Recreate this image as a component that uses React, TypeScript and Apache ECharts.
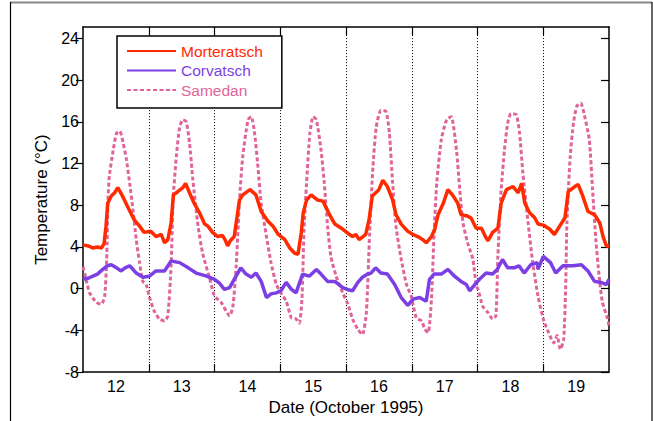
import React, { useEffect, useRef } from "react";
import * as echarts from "echarts";

const seriesNames = ["Morteratsch", "Corvatsch", "Samedan"];
const seriesColors = ["#ff2a00", "#7b3fe4", "#e0649a"];

// [day of October 1995, temperature °C]
const morteratsch: [number, number][] = [
  [11.5, 4.2], [11.58, 4.1], [11.65, 3.9], [11.72, 4.0], [11.78, 3.9], [11.82, 4.3], [11.85, 6.0],
  [11.876, 8.2], [11.93, 8.9], [11.98, 9.2], [12.03, 9.7], [12.1, 8.9], [12.2, 7.6], [12.28, 6.6],
  [12.36, 6.0], [12.43, 5.4], [12.53, 5.5], [12.61, 5.0], [12.69, 5.2], [12.74, 4.4], [12.79, 4.7],
  [12.84, 6.3], [12.875, 9.0], [12.94, 9.3], [13.02, 9.7], [13.06, 10.1], [13.12, 9.2], [13.19, 8.2],
  [13.27, 7.3], [13.35, 6.2], [13.4, 6.0], [13.47, 5.4], [13.55, 5.0], [13.62, 5.1], [13.66, 4.7],
  [13.7, 4.1], [13.74, 4.6], [13.8, 5.0], [13.88, 8.5], [13.93, 9.0], [14.04, 9.5], [14.13, 9.0],
  [14.21, 7.4], [14.31, 6.5], [14.39, 6.0], [14.47, 5.2], [14.57, 4.7], [14.645, 3.9], [14.72, 3.4],
  [14.77, 3.3], [14.82, 5.4], [14.85, 7.3], [14.9, 8.5], [14.97, 9.0], [15.07, 8.5], [15.15, 8.4],
  [15.25, 7.1], [15.33, 6.2], [15.43, 5.8], [15.53, 5.3], [15.6, 5.0], [15.65, 5.2], [15.7, 4.7],
  [15.8, 5.2], [15.85, 6.6], [15.9, 8.9], [16.0, 9.5], [16.06, 10.4], [16.13, 9.8], [16.21, 8.5],
  [16.26, 7.1], [16.34, 6.2], [16.44, 5.5], [16.52, 5.2], [16.59, 5.0], [16.67, 4.7], [16.72, 4.4],
  [16.8, 5.0], [16.85, 5.7], [16.9, 7.1], [16.98, 8.2], [17.05, 9.5], [17.13, 8.9], [17.2, 8.2],
  [17.25, 7.1], [17.33, 7.0], [17.4, 6.8], [17.48, 5.8], [17.56, 5.8], [17.62, 5.0], [17.66, 4.6],
  [17.73, 5.4], [17.81, 5.8], [17.86, 8.2], [17.94, 9.5], [18.04, 9.8], [18.12, 9.2], [18.17, 10.1],
  [18.22, 8.2], [18.29, 7.3], [18.37, 6.8], [18.42, 6.2], [18.5, 6.1], [18.6, 5.7], [18.67, 5.2],
  [18.75, 6.0], [18.83, 6.8], [18.88, 9.3], [18.98, 9.8], [19.03, 10.0], [19.1, 8.9], [19.18, 7.4],
  [19.28, 7.1], [19.36, 6.3], [19.41, 5.0], [19.46, 4.1], [19.5, 4.1],
];

const corvatsch: [number, number][] = [
  [11.5, 0.9], [11.58, 1.0], [11.65, 1.2], [11.72, 1.4], [11.8, 1.85], [11.87, 2.2], [11.93, 2.3],
  [12.01, 2.0], [12.08, 1.7], [12.14, 2.0], [12.21, 2.2], [12.31, 1.5], [12.41, 1.1], [12.51, 1.2],
  [12.61, 1.7], [12.74, 1.7], [12.84, 2.65], [12.97, 2.5], [13.1, 2.0], [13.22, 1.5], [13.38, 1.2],
  [13.5, 0.9], [13.58, 0.5], [13.65, -0.06], [13.73, 0.1], [13.8, 0.9], [13.9, 2.0], [13.98, 1.4],
  [14.06, 1.1], [14.13, 1.5], [14.21, 0.7], [14.29, -0.85], [14.36, -0.5], [14.44, -0.4],
  [14.51, -0.2], [14.59, 0.6], [14.67, -0.06], [14.74, -0.4], [14.84, 1.4], [14.94, 1.2],
  [15.05, 1.85], [15.12, 1.4], [15.22, 0.7], [15.33, 0.7], [15.45, 0.1], [15.53, -0.1], [15.6, -0.2],
  [15.68, 0.6], [15.75, 1.1], [15.83, 1.4], [15.88, 1.5], [15.95, 2.0], [16.03, 1.5], [16.13, 1.4],
  [16.24, 0.4], [16.34, -0.85], [16.44, -1.6], [16.52, -1.0], [16.62, -0.85], [16.72, -1.2],
  [16.77, 0.9], [16.84, 1.4], [16.95, 1.4], [17.05, 1.85], [17.15, 1.2], [17.25, 0.7], [17.33, 0.4],
  [17.38, -0.2], [17.46, 0.4], [17.53, 0.9], [17.63, 1.5], [17.73, 1.4], [17.8, 1.85], [17.88, 2.8],
  [17.96, 2.0], [18.06, 2.0], [18.13, 2.2], [18.21, 1.5], [18.31, 2.3], [18.41, 2.5], [18.42, 1.85],
  [18.5, 3.1], [18.61, 2.5], [18.69, 1.5], [18.8, 2.2], [18.95, 2.2], [19.08, 2.3], [19.18, 1.7],
  [19.28, 0.7], [19.38, 0.6], [19.46, 0.4], [19.5, 0.9],
];

const samedan: [number, number][] = [
  [11.5, 2.1], [11.55, 0.8], [11.6, -0.4], [11.7, -1.3], [11.78, -1.5], [11.83, -0.7], [11.86, 2.8],
  [11.88, 8.5], [11.9, 10.8], [11.96, 13.3], [12.01, 14.9], [12.06, 15.1], [12.11, 14.0],
  [12.16, 12.4], [12.21, 10.1], [12.26, 7.6], [12.31, 4.7], [12.36, 2.5], [12.41, 0.7], [12.46, 0.4],
  [12.51, -0.8], [12.58, -2.1], [12.66, -2.9], [12.74, -3.1], [12.79, -2.6], [12.84, 2.2],
  [12.87, 8.5], [12.92, 12.7], [12.97, 15.5], [13.02, 16.2], [13.07, 16.0], [13.12, 14.0],
  [13.17, 10.5], [13.25, 6.0], [13.32, 3.4], [13.43, 0.9], [13.5, -0.7], [13.6, -1.3], [13.73, -2.6],
  [13.78, -1.7], [13.83, 2.2], [13.88, 8.5], [13.93, 12.7], [14.01, 16.2], [14.06, 16.5],
  [14.11, 14.9], [14.16, 11.7], [14.21, 8.2], [14.29, 5.0], [14.36, 2.5], [14.44, 0.4], [14.51, -0.4],
  [14.59, -1.2], [14.67, -2.8], [14.74, -2.9], [14.79, -3.3], [14.83, -1.0], [14.86, 5.4],
  [14.9, 10.1], [14.95, 14.9], [15.0, 16.5], [15.05, 16.2], [15.12, 13.3], [15.17, 10.1],
  [15.22, 6.0], [15.27, 3.1], [15.35, 1.2], [15.45, -0.4], [15.53, -1.5], [15.6, -2.9], [15.68, -3.9],
  [15.75, -4.4], [15.81, -2.3], [15.86, 5.4], [15.91, 11.7], [15.96, 15.5], [16.03, 17.1],
  [16.11, 17.0], [16.16, 14.9], [16.21, 10.1], [16.26, 6.0], [16.34, 2.8], [16.42, 0.4],
  [16.49, -0.7], [16.57, -2.8], [16.65, -3.1], [16.7, -3.9], [16.75, -4.2], [16.8, -1.0],
  [16.84, 5.4], [16.88, 10.1], [16.95, 14.3], [17.03, 16.2], [17.1, 16.5], [17.18, 13.3],
  [17.23, 9.5], [17.28, 6.3], [17.35, 4.4], [17.43, 2.8], [17.48, 0.3], [17.51, -0.1], [17.58, -1.7],
  [17.66, -2.3], [17.73, -2.9], [17.78, -2.6], [17.81, 3.1], [17.86, 9.5], [17.91, 13.3],
  [17.96, 15.9], [18.01, 16.8], [18.09, 16.7], [18.14, 14.9], [18.19, 11.1], [18.27, 6.3],
  [18.34, 2.5], [18.42, -0.7], [18.5, -2.9], [18.58, -4.2], [18.66, -5.2], [18.71, -4.5],
  [18.76, -5.8], [18.81, -4.9], [18.84, -0.1], [18.86, 6.3], [18.91, 12.7], [18.96, 15.9],
  [19.01, 17.5], [19.07, 17.8], [19.12, 16.8], [19.2, 14.3], [19.25, 9.5], [19.3, 4.7], [19.35, 1.2],
  [19.4, -1.3], [19.48, -2.9], [19.5, -3.6],
];

const yTicks = [-8, -4, 0, 4, 8, 12, 16, 20, 24];
const dayLabels = [12, 13, 14, 15, 16, 17, 18, 19];
const dayBreaks = [12.5, 13.5, 14.5, 15.5, 16.5, 17.5, 18.5];

export default function App() {
  const ref = useRef<HTMLDivElement>(null);

  useEffect(() => {
    const chart = echarts.init(ref.current!, null, { renderer: "svg" });
    const font = "'Liberation Sans', Arial, Helvetica, sans-serif";
    const axisLine = { show: true, onZero: false, lineStyle: { color: "#000", width: 1.5 } };
    const tickStyle = { color: "#000", width: 1.2 };

    chart.setOption({
      animation: false,
      backgroundColor: "#fff",
      textStyle: { fontFamily: font },
      grid: { left: 83, top: 27, width: 526, height: 346, containLabel: false },
      legend: {
        show: true,
        orient: "vertical",
        left: 117,
        top: 36,
        padding: [7, 19, 10, 9],
        itemWidth: 49,
        itemHeight: 14,
        itemGap: 3.5,
        borderColor: "#000",
        borderWidth: 1.5,
        backgroundColor: "#fff",
        selectedMode: false,
        itemStyle: { opacity: 0 },
        textStyle: { fontSize: 15.5, fontFamily: font },
        data: seriesNames.map((n, i) => ({ name: n, textStyle: { color: seriesColors[i] } })),
      },
      xAxis: [
        {
          type: "value",
          min: 11.5,
          max: 19.5,
          position: "bottom",
          axisLine,
          axisTick: { show: true, inside: true, length: 8, customValues: dayBreaks, lineStyle: tickStyle },
          axisLabel: { customValues: dayLabels, fontSize: 16, color: "#000", fontFamily: font, margin: 6 },
          splitLine: { show: false },
          name: "Date (October 1995)",
          nameLocation: "middle",
          nameGap: 26,
          nameTextStyle: { fontSize: 17, color: "#000", fontFamily: font },
        },
        {
          type: "value",
          min: 11.5,
          max: 19.5,
          position: "top",
          axisLine,
          axisTick: { show: true, inside: true, length: 8, customValues: dayBreaks, lineStyle: tickStyle },
          axisLabel: { show: false },
          splitLine: { show: false },
        },
      ],
      yAxis: [
        {
          type: "value",
          min: -8,
          max: 25.1,
          position: "left",
          axisLine,
          axisTick: { show: true, inside: false, length: 7, customValues: yTicks, lineStyle: tickStyle },
          axisLabel: { customValues: yTicks, fontSize: 16, color: "#000", fontFamily: font, margin: 4 },
          splitLine: { show: false },
          name: "Temperature (°C)",
          nameLocation: "middle",
          nameGap: 33,
          nameTextStyle: { fontSize: 17, color: "#000", fontFamily: font },
        },
        {
          type: "value",
          min: -8,
          max: 25.1,
          position: "right",
          axisLine,
          axisTick: { show: true, inside: true, length: 8, customValues: yTicks, lineStyle: tickStyle },
          axisLabel: { show: false },
          splitLine: { show: false },
        },
      ],
      series: [
        {
          name: seriesNames[0],
          type: "line",
          data: morteratsch,
          symbol: "none",
          color: seriesColors[0],
          lineStyle: { color: seriesColors[0], width: 3.5 },
          z: 4,
          markLine: {
            silent: true,
            symbol: "none",
            animation: false,
            label: { show: false },
            lineStyle: { color: "#000", type: [1, 2], width: 1 },
            data: dayBreaks.map((d) => ({ xAxis: d })),
            z: 1,
          },
        },
        {
          name: seriesNames[1],
          type: "line",
          data: corvatsch,
          symbol: "none",
          color: seriesColors[1],
          lineStyle: { color: seriesColors[1], width: 3.5 },
          z: 3,
        },
        {
          name: seriesNames[2],
          type: "line",
          data: samedan,
          symbol: "none",
          smooth: 0.2,
          color: seriesColors[2],
          lineStyle: { color: seriesColors[2], width: 3, type: [4, 2.5] },
          z: 2,
        },
      ],
      graphic: [
        { type: "line", shape: { x1: 10, y1: 2.5, x2: 652, y2: 2.5 }, style: { stroke: "#888", lineWidth: 2 }, silent: true },
        { type: "line", shape: { x1: 10.5, y1: 2, x2: 10.5, y2: 421 }, style: { stroke: "#000", lineWidth: 1.2 }, silent: true },
        { type: "line", shape: { x1: 652, y1: 2, x2: 652, y2: 421 }, style: { stroke: "#000", lineWidth: 1.2 }, silent: true },
      ],
    });

    return () => chart.dispose();
  }, []);

  return (
    <div
      ref={ref}
      style={{ position: "fixed", left: 0, top: 0, width: 653, height: 421 }}
    />
  );
}
